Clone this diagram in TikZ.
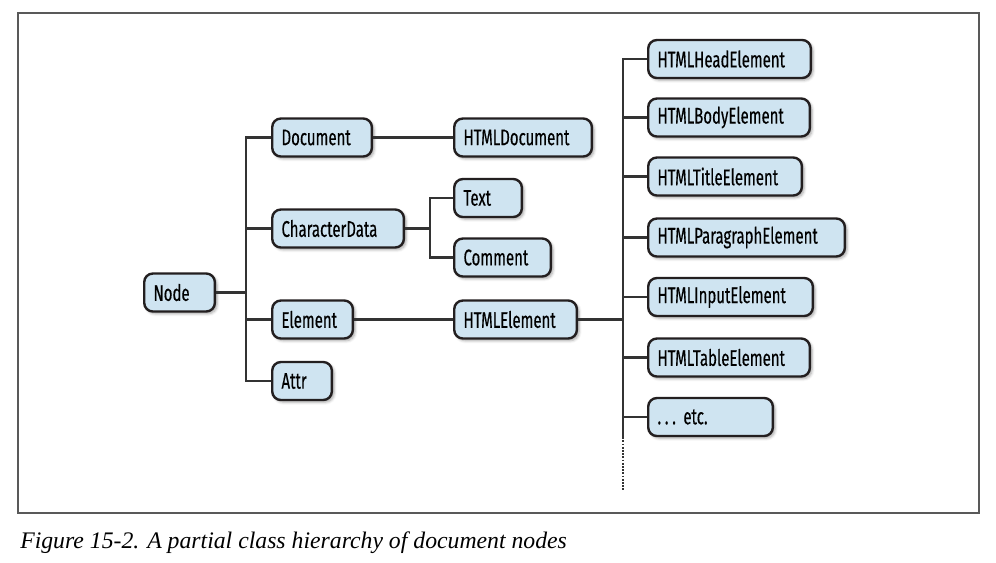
\documentclass[tikz,border=0pt]{standalone}
\usepackage{fontspec}
\newfontfamily\boxfont{Fira Sans}[FakeStretch=0.66, FakeBold=0.35]
\newfontfamily\capfont{Liberation Serif}
\usetikzlibrary{positioning, shadows.blur}
\definecolor{boxblue}{HTML}{CFE4F1}
\definecolor{boxline}{HTML}{231F20}
\definecolor{wire}{HTML}{333333}
\tikzset{
    cls/.style={draw=boxline, fill=boxblue, line width=1.8pt,
        rounded corners=6.5pt, anchor=west, align=left,
        text width=#1, minimum height=28.5pt, inner xsep=7pt,
        font=\boxfont\fontsize{17}{20}\selectfont,
        blur shadow={shadow xshift=1.6pt, shadow yshift=-1.6pt,
            shadow blur radius=2pt, shadow opacity=35}},
    wireline/.style={draw=wire, line width=1.6pt}
}

\begin{document}
\begin{tikzpicture}[x=0.75pt, y=-0.75pt]
        \useasboundingbox (0, 0) rectangle (996, 562);
        \draw[gray!70!black, line width=1.1pt] (18, 13) rectangle (979, 513);
        % classes
        \node[cls=39pt] (root) at (143, 292.5) {Node};
        \node[cls=60.75pt] (doc) at (271, 137.5) {Document};
        \node[cls=84.75pt] (chardata) at (271, 228.5) {CharacterData};
        \node[cls=46.5pt] (elem) at (271, 319.5) {Element};
        \node[cls=30.75pt] (attr) at (271, 381) {Attr};
        \node[cls=89.25pt] (htmldoc) at (453, 137.5) {HTMLDocument};
        \node[cls=36.75pt] (text) at (453, 198) {Text};
        \node[cls=58.5pt] (comment) at (453, 257.5) {Comment};
        \node[cls=78pt] (htmlelem) at (453, 319.5) {HTMLElement};
        \node[cls=108pt] (head) at (647, 59) {HTMLHeadElement};
        \node[cls=107.25pt] (body) at (647, 117.5) {HTMLBodyElement};
        \node[cls=101.25pt] (title) at (647, 176.5) {HTMLTitleElement};
        \node[cls=133.5pt] (para) at (647, 237.5) {HTMLParagraphElement};
        \node[cls=109.5pt] (input) at (647, 297) {HTMLInputElement};
        \node[cls=107.25pt] (table) at (647, 357.5) {HTMLTableElement};
        \node[cls=79.5pt] (etc) at (647, 417) {.\,.\,.\ etc.};
        % tree lines
        \coordinate (split) at (246, 292.5);
        \coordinate (cdsplit) at (430, 228.5);
        \coordinate (hsplit) at (623, 319.5);
        \coordinate (dots) at (623, 490);
        \draw[wireline] (root) -- (split);
        \draw[wireline] (split) |- (doc);
        \draw[wireline] (split) |- (chardata);
        \draw[wireline] (split) |- (elem);
        \draw[wireline] (split) |- (attr);
        \draw[wireline] (doc) -- (htmldoc);
        \draw[wireline] (chardata) -- (cdsplit);
        \draw[wireline] (cdsplit) |- (text);
        \draw[wireline] (cdsplit) |- (comment);
        \draw[wireline] (elem) -- (htmlelem);
        \draw[wireline] (htmlelem) -- (hsplit);
        \draw[wireline] (hsplit) |- (head);
        \draw[wireline] (hsplit) |- (body);
        \draw[wireline] (hsplit) |- (title);
        \draw[wireline] (hsplit) |- (para);
        \draw[wireline] (hsplit) |- (input);
        \draw[wireline] (hsplit) |- (table);
        \draw[wireline] (hsplit) |- (etc);
        \draw[wireline] (hsplit) -- (dots |- etc.south);
        \draw[wireline, line width=1.4pt, densely dotted]
            (dots |- etc.south) -- (dots);
        % caption
        \node[anchor=base west, inner sep=0pt,
            font=\capfont\itshape\fontsize{17.8}{21}\selectfont]
            (caption) at (20, 548)
            {Figure 15-2. A partial class hierarchy of document nodes};
    \end{tikzpicture}
\end{document}
